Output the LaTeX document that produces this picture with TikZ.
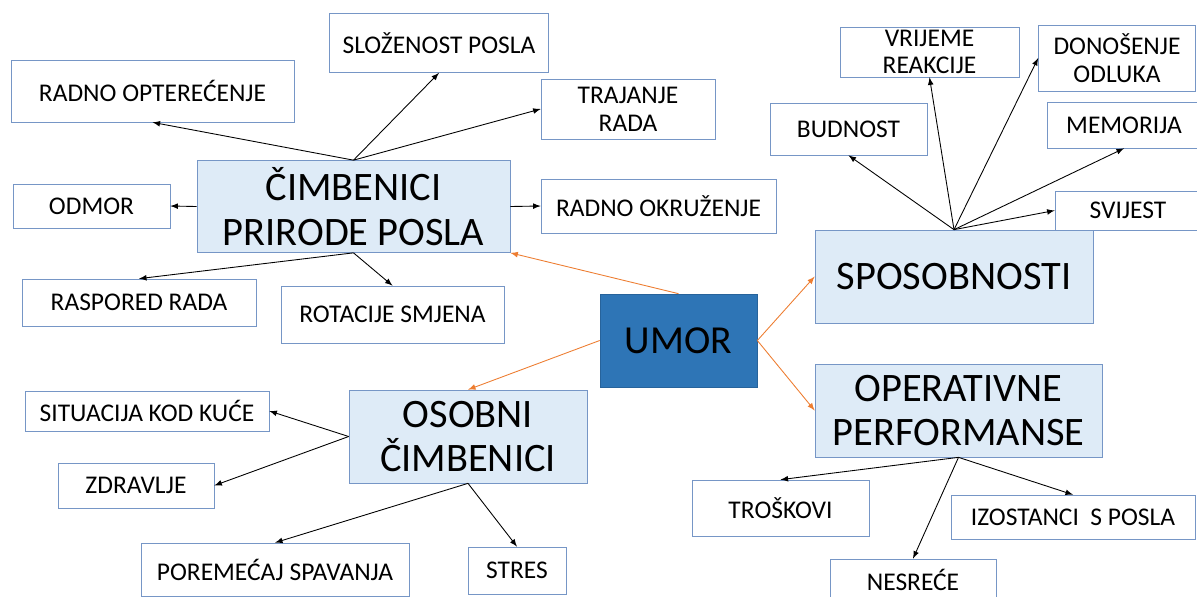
\documentclass[tikz,border=0pt]{standalone}
\usepackage{fontspec}
\setmainfont{Carlito}
\usepackage{tikz}
\usetikzlibrary{shapes,arrows,positioning}

\definecolor{BoxLine}{RGB}{118,150,198}
\definecolor{BoxFill}{RGB}{222,235,247}
\definecolor{UmorBlue}{RGB}{46,117,182}
\definecolor{UmorOrange}{RGB}{237,125,49}

\begin{document}
\begin{tikzpicture}[x=0.02cm, y=-0.02cm]
			\tikzstyle{Leaf} 	= [rectangle, draw=BoxLine, fill=white, inner sep=0pt, align=center, font=\fontsize{14.5}{15.8}\selectfont]
			\tikzstyle{Group}	= [rectangle, draw=BoxLine, fill=BoxFill, inner sep=0pt, align=center, font=\fontsize{23}{25.2}\selectfont]
			\tikzstyle{Core}	= [rectangle, draw=UmorBlue!85!black, fill=UmorBlue, inner sep=0pt, font=\fontsize{22.6}{26}\selectfont]
			\tikzstyle{Link}	= [-latex, black, line width=0.5pt]
			\tikzstyle{Cause}	= [-latex, UmorOrange, line width=0.5pt]

			\useasboundingbox (0,0) rectangle (1197,596);

			% centre
			\node (umor) at (678.5, 340.5) [Core][minimum width=3.14cm, minimum height=1.86cm] {UMOR};

			% groups
			\node (prirodna) at (353.5, 206.5) [Group][minimum width=6.26cm, minimum height=1.84cm] {ČIMBENICI\\PRIRODE POSLA};
			\node (sposob) at (954, 276.5) [Group][minimum width=5.56cm, minimum height=1.86cm] {SPOSOBNOSTI};
			\node (operat) at (958.5, 410.5) [Group][minimum width=5.74cm, minimum height=1.86cm] {OPERATIVNE\\PERFORMANSE};
			\node (osobni) at (468, 436.5) [Group][minimum width=4.76cm, minimum height=1.86cm] {OSOBNI\\ČIMBENICI};

			% priroda posla
			\node (slozenost) at (439, 43) [Leaf][minimum width=4.39cm, minimum height=1.18cm] {SLOŽENOST POSLA};
			\node (optere) at (152.5, 91) [Leaf][minimum width=5.66cm, minimum height=1.24cm] {RADNO OPTEREĆENJE};
			\node (trajanje) at (628, 109) [Leaf][minimum width=3.48cm, minimum height=1.20cm] {TRAJANJE\\RADA};
			\node (odmor) at (91.5, 206) [Leaf][minimum width=3.14cm, minimum height=0.88cm] {ODMOR};
			\node (okruz) at (658.5, 206) [Leaf][minimum width=4.70cm, minimum height=1.08cm] {RADNO OKRUŽENJE};
			\node (raspored) at (139, 302.5) [Leaf][minimum width=4.68cm, minimum height=0.94cm] {RASPORED RADA};
			\node (rotacije) at (392.5, 314.5) [Leaf][minimum width=4.46cm, minimum height=1.14cm] {ROTACIJE SMJENA};

			% sposobnosti
			\node (budnost) at (848.5, 129) [Leaf][minimum width=3.14cm, minimum height=1.04cm] {BUDNOST};
			\node (vrijeme) at (929.5, 52) [Leaf][minimum width=3.58cm, minimum height=1.00cm] {VRIJEME\\REAKCIJE};
			\node (odluke) at (1117, 58) [Leaf][minimum width=3.14cm, minimum height=1.32cm] {DONOŠENJE\\ODLUKA};
			\node (memorija) at (1124, 125) [Leaf][minimum width=3.08cm, minimum height=0.92cm] {MEMORIJA};
			\node (svijest) at (1128, 210.5) [Leaf][minimum width=2.92cm, minimum height=0.78cm] {SVIJEST};

			% operativne performanse
			\node (troskovi) at (780.5, 508) [Leaf][minimum width=3.54cm, minimum height=1.12cm] {TROŠKOVI};
			\node (izostanci) at (1073, 517) [Leaf][minimum width=4.88cm, minimum height=0.88cm] {IZOSTANCI\ \ S POSLA};
			\node (nesrece) at (913, 580) [Leaf][minimum width=3.32cm, minimum height=0.84cm] {NESREĆE};

			% osobni cimbenici
			\node (kuca) at (147, 411) [Leaf][minimum width=4.88cm, minimum height=0.80cm] {SITUACIJA KOD KUĆE};
			\node (zdravlje) at (136, 485.5) [Leaf][minimum width=3.12cm, minimum height=0.90cm] {ZDRAVLJE};
			\node (spavanje) at (275, 569.5) [Leaf][minimum width=5.36cm, minimum height=1.06cm] {POREMEĆAJ SPAVANJA};
			\node (stres) at (517, 570.5) [Leaf][minimum width=1.96cm, minimum height=0.94cm] {STRES};

			\draw [Cause] (umor.north) to (prirodna.south east);
			\draw [Cause] (umor.east) to (sposob.west);
			\draw [Cause] (umor.east) to (operat.west);
			\draw [Cause] (umor.west) to (osobni.north);

			\draw [Link] (prirodna.north) to (optere.south);
			\draw [Link] (prirodna.north) to (slozenost.south);
			\draw [Link] (prirodna.north) to (trajanje.west);
			\draw [Link] (prirodna.west) to (odmor.east);
			\draw [Link] (prirodna.east) to (okruz.west);
			\draw [Link] (prirodna.south) to (raspored.north);
			\draw [Link] (prirodna.south) to (rotacije.north);

			\draw [Link] (sposob.north) to (budnost.south);
			\draw [Link] (sposob.north) to (vrijeme.south);
			\draw [Link] (sposob.north) to (odluke.west);
			\draw [Link] (sposob.north) to (memorija.south);
			\draw [Link] (sposob.north) to (svijest.west);

			\draw [Link] (operat.south) to (troskovi.north);
			\draw [Link] (operat.south) to (nesrece.north);
			\draw [Link] (operat.south) to (izostanci.north);

			\draw [Link] (osobni.west) to (kuca.east);
			\draw [Link] (osobni.west) to (zdravlje.east);
			\draw [Link] (osobni.south) to (spavanje.north);
			\draw [Link] (osobni.south) to (stres.north);
		\end{tikzpicture}
\end{document}
